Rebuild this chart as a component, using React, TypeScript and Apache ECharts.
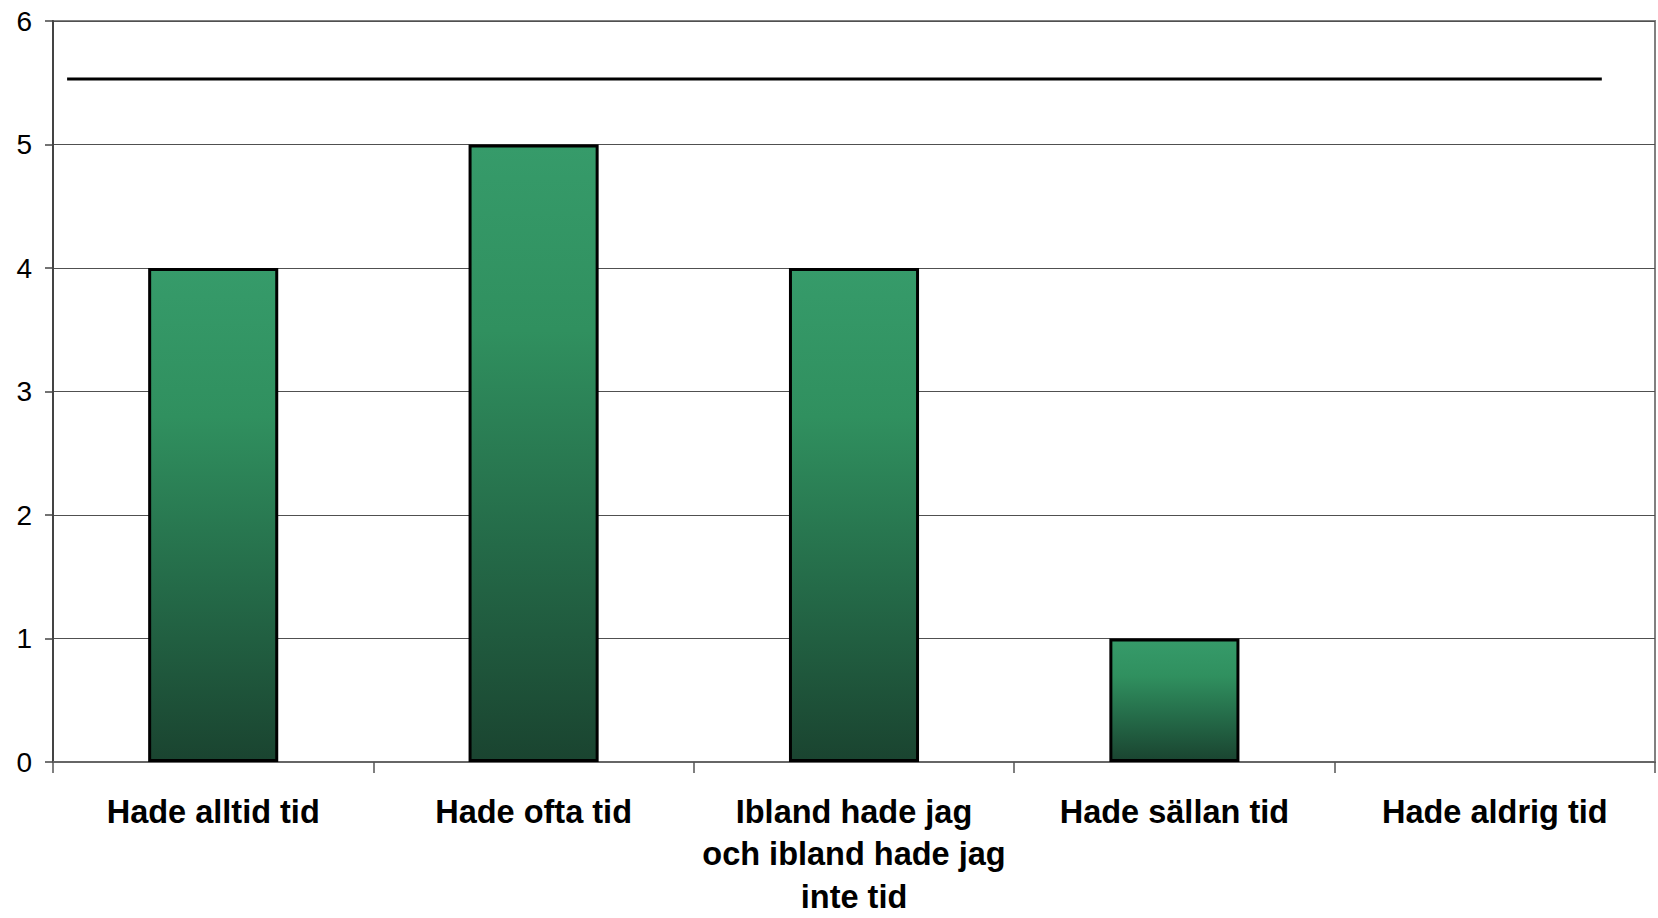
import React, { useEffect, useRef } from "react";
import * as echarts from "echarts";

const categories = [
  "Hade alltid tid",
  "Hade ofta tid",
  "Ibland hade jag\noch ibland hade jag\ninte tid",
  "Hade sällan tid",
  "Hade aldrig tid",
];
const counts = [4, 5, 4, 1, 0];
const referenceValue = 5.53;
const referenceSpan = [0.044, 4.834];
const yTicks = { min: 0, max: 6, interval: 1 };

export default function App() {
  const ref = useRef<HTMLDivElement>(null);
  useEffect(() => {
    if (!ref.current) return;
    const chart = echarts.init(ref.current, undefined, { renderer: "svg" });
    const font = "'Liberation Sans', Arial, sans-serif";
    chart.setOption({
      animation: false,
      backgroundColor: "#ffffff",
      grid: {
        left: 53,
        top: 21,
        right: 3,
        bottom: 156,
        containLabel: false,
        outerBoundsMode: "none",
        show: true,
        borderColor: "#808080",
        borderWidth: 2,
        backgroundColor: "transparent",
      },
      xAxis: [
        {
          type: "category",
          data: categories,
          boundaryGap: true,
          axisLine: { show: true, lineStyle: { color: "#666", width: 2 } },
          axisTick: { show: true, length: 11, lineStyle: { color: "#555", width: 1.5 } },
          axisLabel: {
            interval: 0,
            margin: 29,
            color: "#000",
            fontFamily: font,
            fontWeight: "bold",
            fontSize: 32.5,
            lineHeight: 42.2,
            align: "center",
          },
          splitLine: { show: false },
        },
        {
          type: "value",
          min: 0,
          max: 5,
          show: false,
          position: "top",
        },
      ],
      yAxis: {
        type: "value",
        min: yTicks.min,
        max: yTicks.max,
        interval: yTicks.interval,
        axisLine: { show: true, lineStyle: { color: "#444", width: 2 } },
        axisTick: { show: true, length: 8, lineStyle: { color: "#444", width: 1.5 } },
        axisLabel: {
          margin: 21,
          color: "#000",
          fontFamily: font,
          fontSize: 28,
          padding: [0, 0, 5, 0],
        },
        splitLine: { show: true, lineStyle: { color: "#505050", width: 1 } },
      },
      series: [
        {
          type: "bar",
          data: counts.map((v) =>
            v === 0 ? { value: v, itemStyle: { borderWidth: 0, opacity: 0 } } : v
          ),
          barWidth: "40.6%",
          xAxisIndex: 0,
          itemStyle: {
            borderColor: "#000",
            borderWidth: 3,
            color: {
              type: "linear",
              x: 0,
              y: 0,
              x2: 0,
              y2: 1,
              colorStops: [
                { offset: 0, color: "#369b6a" },
                { offset: 0.3, color: "#30905f" },
                { offset: 0.65, color: "#246a48" },
                { offset: 1, color: "#1a4430" },
              ],
            },
          },
        },
        {
          type: "line",
          xAxisIndex: 1,
          data: [
            [referenceSpan[0], referenceValue],
            [referenceSpan[1], referenceValue],
          ],
          symbol: "none",
          lineStyle: { color: "#000", width: 3 },
          silent: true,
        },
      ],
    });
    return () => chart.dispose();
  }, []);
  return (
    <div
      ref={ref}
      style={{ position: "fixed", left: 0, top: 0, width: 1658, height: 918 }}
    />
  );
}
